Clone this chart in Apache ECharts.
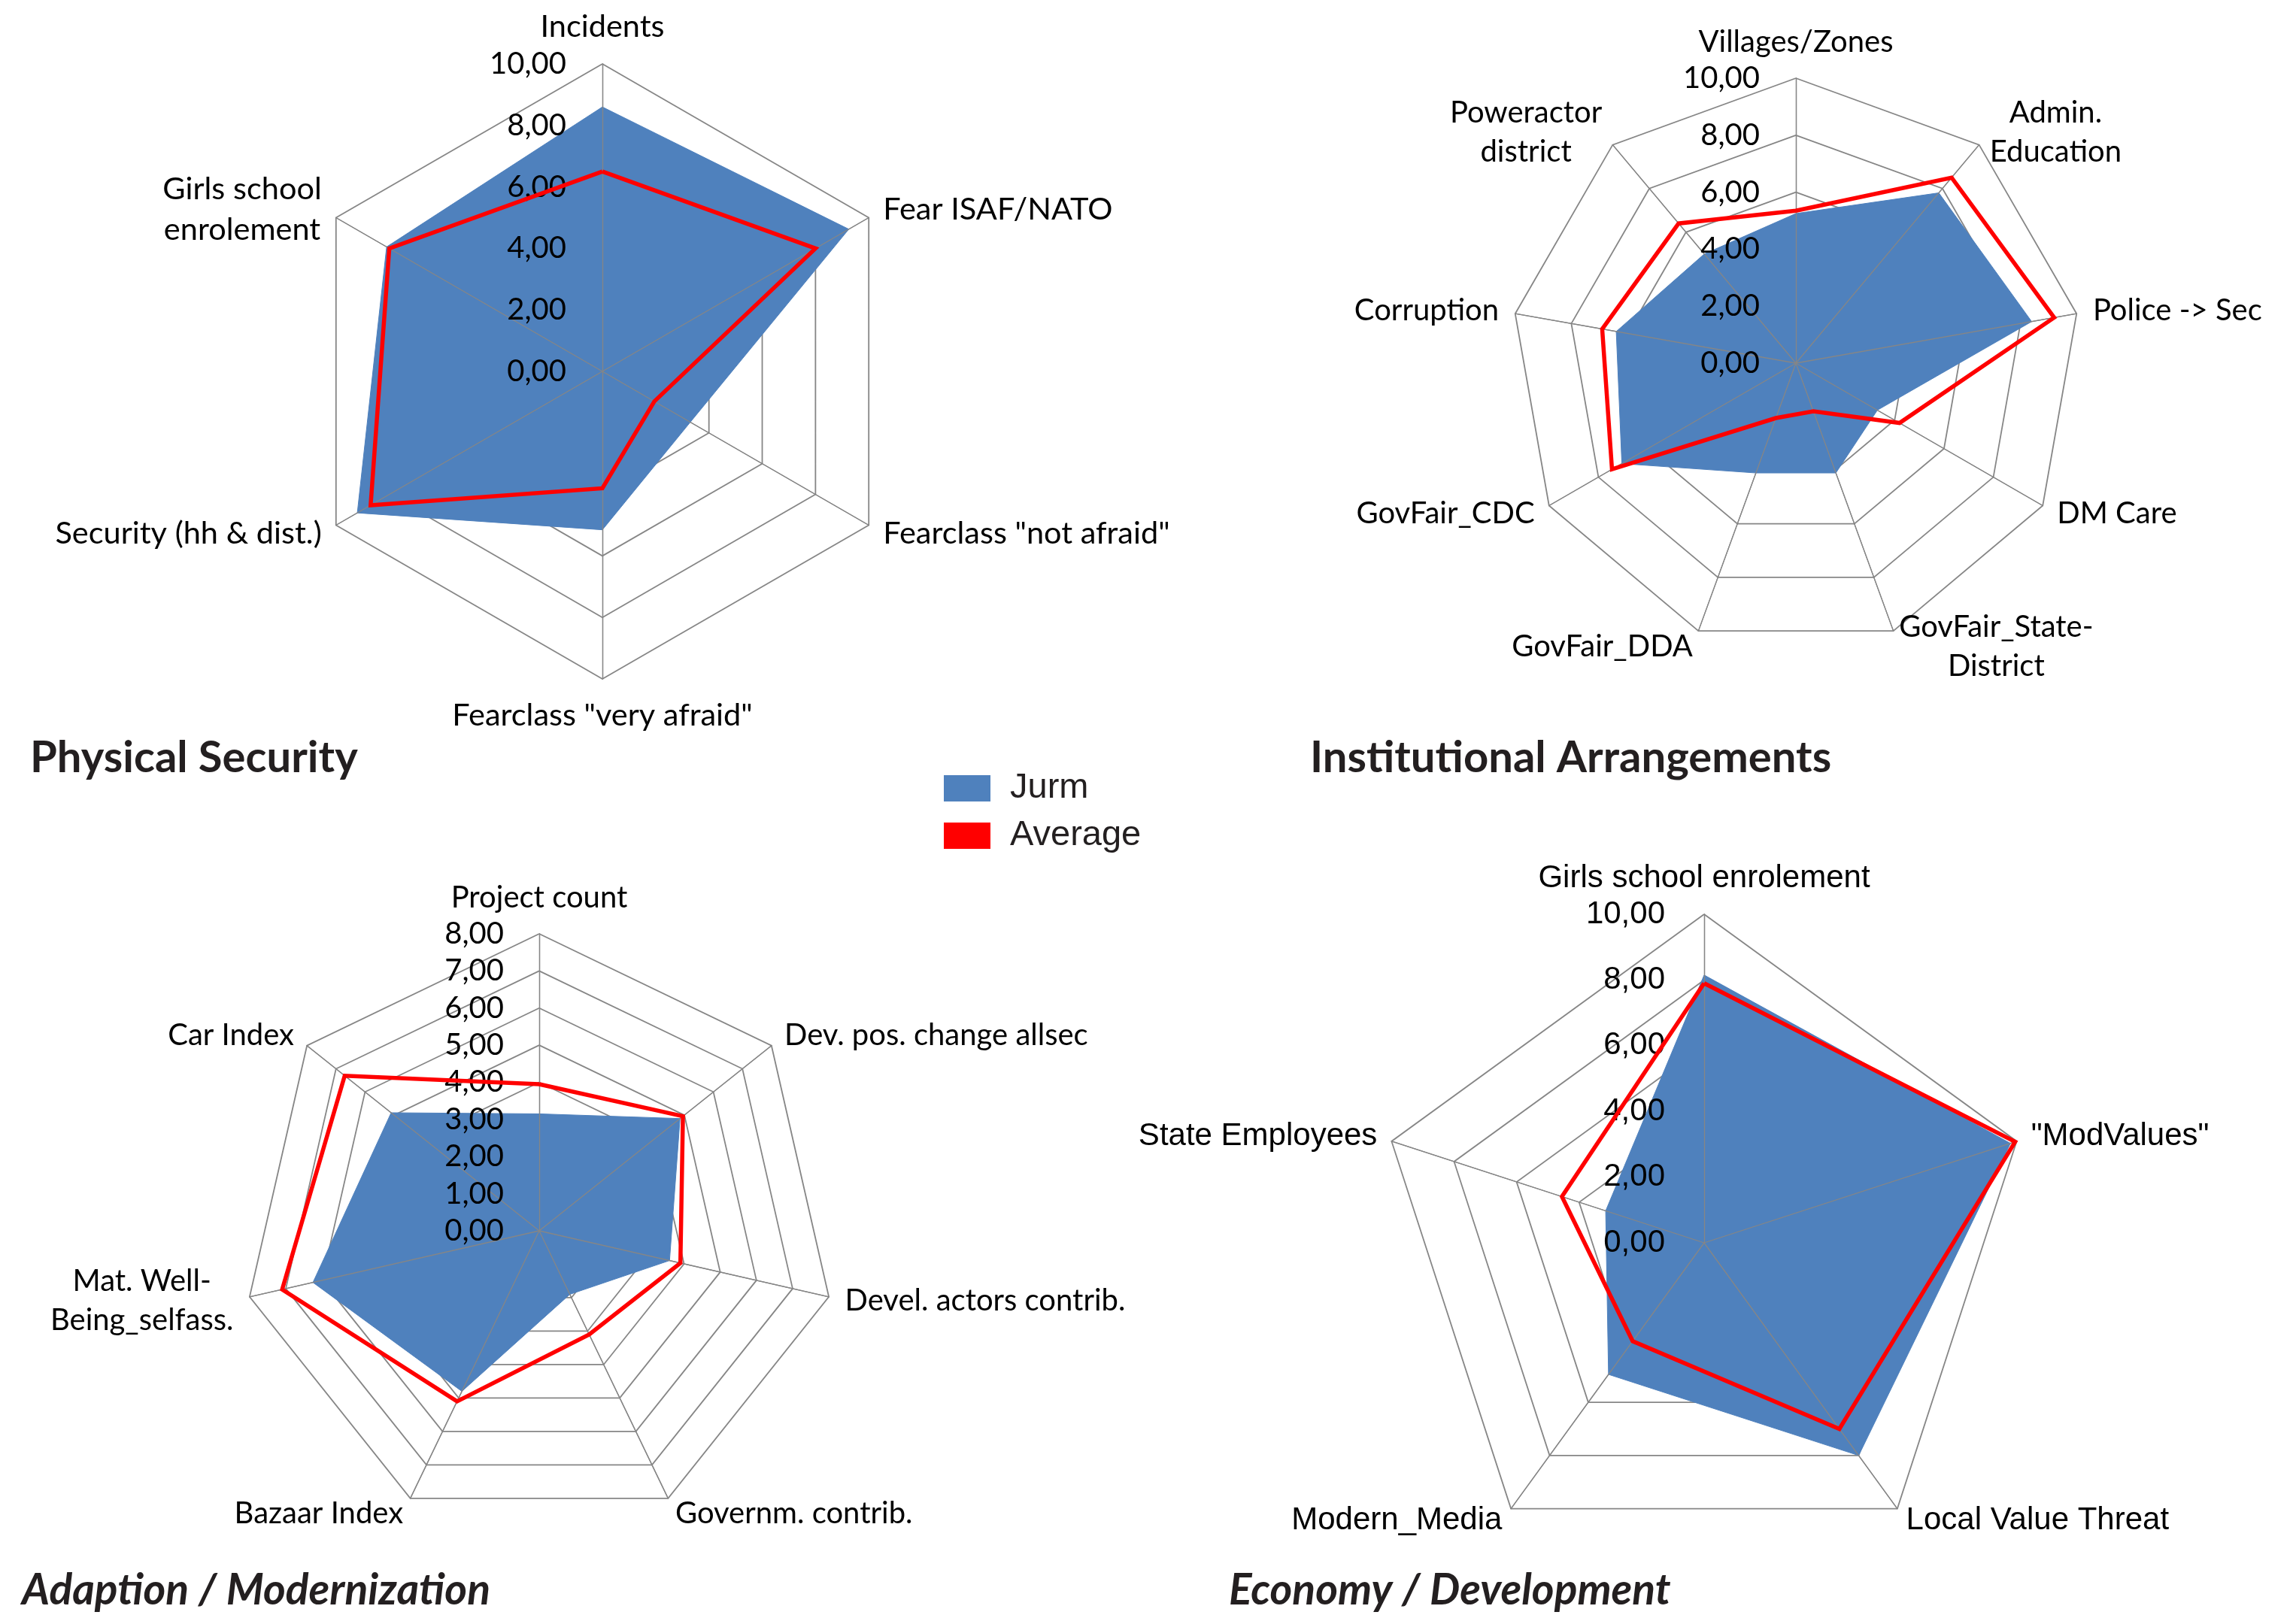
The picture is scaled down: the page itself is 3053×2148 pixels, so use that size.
<!DOCTYPE html>
<html><head><meta charset="utf-8">
<script src="https://cdn.jsdelivr.net/npm/echarts@6/dist/echarts.min.js"></script>
<style>html,body{margin:0;padding:0;background:#fff}#c{width:3053px;height:2148px}</style>
</head><body><div id="c"></div>
<script>
// ---------- data ----------
const seriesNames = ['Jurm', 'Average'];

const securityAxes = ['Incidents', 'Fear ISAF/NATO', 'Fearclass "not afraid"', 'Fearclass "very afraid"', 'Security (hh & dist.)', 'Girls school\nenrolement'];
const securityJurm = [8.6, 9.25, 3.3, 5.15, 9.2, 8.1];
const securityAverage = [6.5, 8.0, 1.95, 3.8, 8.7, 8.0];

const institutionalAxes = ['Villages/Zones', 'Admin.\nEducation', 'Police -> Sec', 'DM Care', 'GovFair_State-\nDistrict', 'GovFair_DDA', 'GovFair_CDC', 'Corruption', 'Poweractor\ndistrict'];
const institutionalJurm = [5.25, 7.8, 8.4, 3.3, 4.1, 4.1, 7.05, 6.4, 5.0];
const institutionalAverage = [5.35, 8.5, 9.2, 4.2, 1.8, 2.05, 7.45, 6.9, 6.4];

const adaptionAxes = ['Project count', 'Dev. pos. change allsec', 'Devel. actors contrib.', 'Governm. contrib.', 'Bazaar Index', 'Mat. Well-\nBeing_selfass.', 'Car Index'];
const adaptionJurm = [3.15, 4.85, 3.6, 1.9, 4.8, 6.25, 5.1];
const adaptionAverage = [3.95, 4.95, 3.9, 3.1, 5.1, 7.1, 6.7];

const economyAxes = ['Girls school enrolement', '"ModValues"', 'Local Value Threat', 'Modern_Media', 'State Employees'];
const economyJurm = [8.15, 9.8, 8.0, 4.95, 3.15];
const economyAverage = [7.9, 9.95, 7.0, 3.7, 4.55];

const panelTitles = ['Physical Security', 'Institutional Arrangements', 'Adaption / Modernization', 'Economy / Development'];
const axisMax = [10, 10, 8, 10];
const axisStep = [2, 2, 1, 2];

// ---------- layout / style ----------
const CAL = 'Lato, "Open Sans", sans-serif';
const ARIAL = '"Liberation Sans", Arial, sans-serif';
const panels = [
  {axes: securityAxes, jurm: securityJurm, avg: securityAverage, center: [801, 494], radius: 409, font: CAL, size: 41.5, labelSize: 40, gap: 22, margin: 48},
  {axes: institutionalAxes, jurm: institutionalJurm, avg: institutionalAverage, center: [2388, 483], radius: 379, font: CAL, size: 40, labelSize: 40, gap: 22, margin: 48},
  {axes: adaptionAxes, jurm: adaptionJurm, avg: adaptionAverage, center: [717, 1637], radius: 395, font: CAL, size: 40, labelSize: 40, gap: 22, margin: 47},
  {axes: economyAxes, jurm: economyJurm, avg: economyAverage, center: [2266, 1653], radius: 437, font: ARIAL, size: 42, labelSize: 42, gap: 20, margin: 52}
];
const titlePos = [
  {left: 40, top: 979, italic: false, size: 58},
  {left: 1742, top: 979, italic: false, size: 58},
  {left: 29, top: 2087, italic: true, size: 57},
  {left: 1634, top: 2087, italic: true, size: 57}
];
const BLUE = '#4F81BD', RED = '#FF0000', GRID = '#868686';

// ECharts places indicators counter-clockwise; the original runs clockwise
function clockwise(a) { return [a[0]].concat(a.slice(1).reverse()); }
const fmt = v => Number(v).toFixed(2).replace('.', ',');

const radar = [], series = [];
panels.forEach((p, i) => {
  const max = axisMax[i], split = Math.round(max / axisStep[i]);
  const ind = clockwise(p.axes).map(name => ({name: name, min: 0, max: max}));
  const indTop = ind.map((o, k) => k === 0 ? Object.assign({}, o, {axisLabel: {show: true}}) : Object.assign({}, o));
  const nameStyle = {color: '#000', fontFamily: p.font, fontSize: p.size, lineHeight: Math.round(p.size * 1.3)};
  radar.push({
    center: p.center, radius: p.radius, startAngle: 90, shape: 'polygon', splitNumber: split, z: 0,
    indicator: ind, nameGap: p.gap,
    axisName: Object.assign({show: true,
      formatter: n => n.split('\n').map(s => '{c|' + s + '}').join('\n'),
      rich: {c: Object.assign({align: 'center'}, nameStyle)}}, nameStyle),
    splitLine: {show: true, lineStyle: {color: GRID, width: 1.8}},
    splitArea: {show: false},
    axisLine: {show: true, lineStyle: {color: GRID, width: 1.3}},
    axisTick: {show: false},
    axisLabel: {show: false}
  });
  radar.push({
    center: p.center, radius: p.radius, startAngle: 90, shape: 'polygon', splitNumber: split, z: 3,
    indicator: indTop,
    axisName: {show: false},
    splitLine: {show: false}, splitArea: {show: false},
    axisLine: {show: true, lineStyle: {color: GRID, width: 1.3}},
    axisTick: {show: false},
    axisLabel: {show: false, margin: p.margin, color: '#000', fontFamily: p.font, fontSize: p.labelSize, formatter: fmt}
  });
  series.push({
    type: 'radar', radarIndex: 2 * i, z: 2, symbol: 'none', silent: true,
    data: [{name: seriesNames[0], value: clockwise(p.jurm),
      itemStyle: {color: BLUE}, lineStyle: {color: BLUE, width: 1}, areaStyle: {color: BLUE, opacity: 1}}]
  });
  series.push({
    type: 'radar', radarIndex: 2 * i + 1, z: 4, symbol: 'none', silent: true,
    data: [{name: seriesNames[1], value: clockwise(p.avg),
      itemStyle: {color: RED}, lineStyle: {color: RED, width: 5.5, join: 'miter'}}]
  });
});

const title = panelTitles.map((t, i) => ({
  text: t, left: titlePos[i].left, top: titlePos[i].top, padding: 0,
  textStyle: {fontFamily: CAL, fontWeight: 'bold', fontStyle: titlePos[i].italic ? 'italic' : 'normal',
    fontSize: titlePos[i].size, color: '#231F20'}
}));

const chart = echarts.init(document.getElementById('c'));
chart.setOption({
  animation: false,
  backgroundColor: '#fff',
  title: title,
  legend: {
    data: seriesNames, orient: 'vertical', left: 1255, top: 1025, padding: 0,
    icon: 'rect', itemWidth: 62, itemHeight: 35, itemGap: 16, selectedMode: false,
    itemStyle: {borderWidth: 0},
    textStyle: {fontFamily: ARIAL, fontSize: 47, color: '#231F20', padding: [0, 0, 0, 21]}
  },
  radar: radar,
  series: series
});
</script></body></html>
